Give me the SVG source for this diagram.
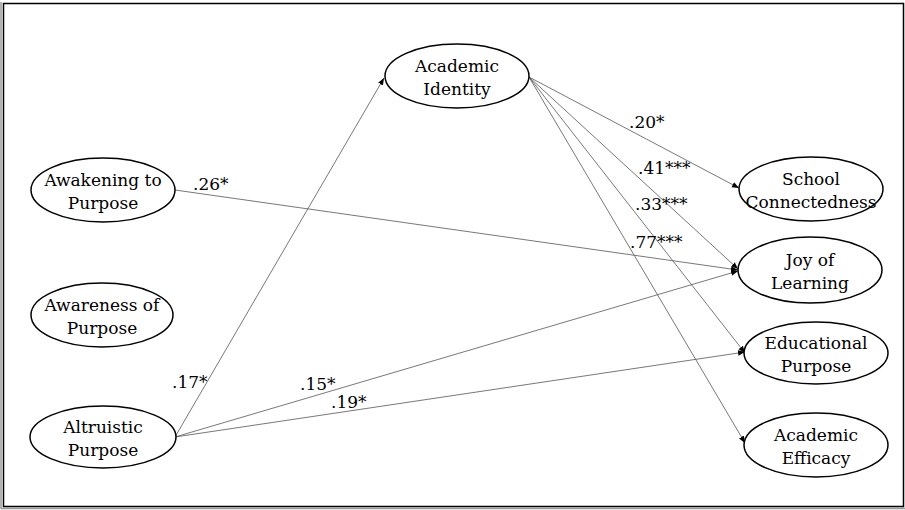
<svg xmlns="http://www.w3.org/2000/svg" width="905" height="510" viewBox="0 0 905 510">
<style>
.node ellipse{fill:#fff;stroke:#000;stroke-width:1.5}
text{font-family:"DejaVu Serif","Liberation Serif",serif;font-size:17px;fill:#000}
.node text{text-anchor:middle}
.edge{stroke:#555;stroke-width:0.8;fill:none;marker-end:url(#arr)}
</style>
<defs>
<marker id="arr" viewBox="0 0 10 10" refX="10" refY="5" markerWidth="7" markerHeight="7" markerUnits="userSpaceOnUse" orient="auto">
<path d="M0,1 L10,5 L0,9 Z" fill="#000"/>
</marker>
</defs>
<rect width="905" height="510" fill="#fff"/>
<line x1="1" y1="2" x2="1" y2="509" stroke="#999" stroke-width="1.5"/>
<line x1="1" y1="508.5" x2="905" y2="508.5" stroke="#999" stroke-width="1.5"/>
<rect x="3.5" y="3.5" width="900" height="503" fill="none" stroke="#000" stroke-width="1.5"/>
<g id="connectors">
<line class="edge" x1="175" y1="437" x2="384" y2="78"/>
<line class="edge" x1="529" y1="77" x2="739" y2="188"/>
<line class="edge" x1="529" y1="77" x2="738" y2="269"/>
<line class="edge" x1="529" y1="77" x2="745" y2="353"/>
<line class="edge" x1="529" y1="77" x2="745" y2="443"/>
<line class="edge" x1="175" y1="190" x2="738" y2="270"/>
<line class="edge" x1="175" y1="437" x2="738" y2="271"/>
<line class="edge" x1="175" y1="437" x2="745" y2="352"/>
</g>
<g id="labels">
<text x="629" y="128">.20*</text>
<text x="638" y="174">.41***</text>
<text x="635" y="210">.33***</text>
<text x="630" y="248">.77***</text>
<text x="193" y="190">.26*</text>
<text x="172" y="388">.17*</text>
<text x="300" y="390">.15*</text>
<text x="331" y="408">.19*</text>
</g>
<g id="academic-identity" class="node"><ellipse cx="457" cy="76" rx="72" ry="32"/><text x="457" y="72">Academic</text><text x="457" y="95">Identity</text></g>
<g id="awakening" class="node"><ellipse cx="103" cy="190" rx="72" ry="32"/><text x="103" y="186">Awakening to</text><text x="103" y="209">Purpose</text></g>
<g id="awareness" class="node"><ellipse cx="102" cy="315" rx="71" ry="32"/><text x="102" y="311">Awareness of</text><text x="102" y="334">Purpose</text></g>
<g id="altruistic" class="node"><ellipse cx="103" cy="437" rx="73" ry="31"/><text x="103" y="433">Altruistic</text><text x="103" y="456">Purpose</text></g>
<g id="school-connectedness" class="node"><ellipse cx="811" cy="189" rx="72" ry="32"/><text x="811" y="185">School</text><text x="811" y="208">Connectedness</text></g>
<g id="joy-of-learning" class="node"><ellipse cx="810" cy="270" rx="72" ry="33"/><text x="810" y="266">Joy of</text><text x="810" y="289">Learning</text></g>
<g id="educational-purpose" class="node"><ellipse cx="816" cy="353" rx="72" ry="31"/><text x="816" y="349">Educational</text><text x="816" y="372">Purpose</text></g>
<g id="academic-efficacy" class="node"><ellipse cx="816" cy="445" rx="72" ry="32"/><text x="816" y="441">Academic</text><text x="816" y="464">Efficacy</text></g>
</svg>
